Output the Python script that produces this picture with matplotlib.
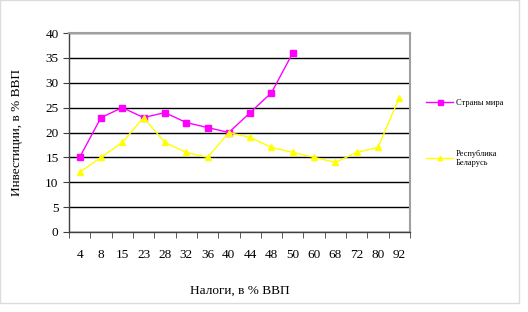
import matplotlib
matplotlib.use("Agg")
import matplotlib.pyplot as plt
from matplotlib.patches import Rectangle

plt.rcParams["font.family"] = ["Liberation Serif", "DejaVu Serif"]

# data
taxes = ["4", "8", "15", "23", "28", "32", "36", "40", "44", "48", "50", "60", "68", "72", "80", "92"]
world = [15, 23, 25, 23, 24, 22, 21, 20, 24, 28, 36]
belarus = [12, 15, 18, 23, 18, 16, 15, 20, 19, 17, 16, 15, 14, 16, 17, 27]
y_ticks = [0, 5, 10, 15, 20, 25, 30, 35, 40]

fig = plt.figure(figsize=(5.28, 3.12), dpi=100)
ax = fig.add_axes([69 / 528, 1 - 232 / 312, 341 / 528, 199 / 312])

# light outer frame around the chart
fig.patches.append(Rectangle((0, 1 - 303 / 312), 519 / 528, 303 / 312,
                             transform=fig.transFigure, fill=False,
                             edgecolor="#dcdcdc", linewidth=1))

x_w = list(range(len(world)))
x_b = list(range(len(belarus)))
l1, = ax.plot(x_w, world, color="#ff00ff", linewidth=1, marker="s",
              markersize=4.5, label="Страны мира", zorder=3)
l2, = ax.plot(x_b, belarus, color="#ffff00", linewidth=1, marker="^",
              markersize=4, label="Республика\nБеларусь", zorder=3)

ax.set_xlim(-0.5, len(taxes) - 0.5)
ax.set_ylim(0, 40)
ax.set_yticks(y_ticks)
ax.set_xticks(x_b)
ax.set_xticklabels(taxes)
ax.set_xticks([i - 0.5 for i in range(len(taxes) + 1)], minor=True)
ax.tick_params(axis="x", which="major", length=0, pad=12, labelsize=9.5)
ax.tick_params(axis="x", which="minor", length=4, direction="out", color="#404040")
ax.tick_params(axis="y", length=4, direction="out", color="#404040", labelsize=9.5)

ax.grid(axis="y", color="black", linewidth=1)
ax.set_axisbelow(True)
for side in ["top", "right"]:
    ax.spines[side].set_color("#a0a0a0")
    ax.spines[side].set_linewidth(1.5)
for side in ["left", "bottom"]:
    ax.spines[side].set_color("#404040")
    ax.spines[side].set_linewidth(1)

ax.set_xlabel("Налоги, в % ВВП", fontsize=9.5, labelpad=17)
ax.set_ylabel("Инвестиции, в % ВВП", fontsize=9.5, labelpad=16)

legend = fig.legend(handles=[l1, l2], loc="upper left",
                    bbox_to_anchor=(422 / 528, 1 - 95 / 312),
                    frameon=False, fontsize=6, labelspacing=5.1, handlelength=3.2,
                    handletextpad=0.4, borderpad=0, markerscale=0.8)

fig.savefig("out.png", dpi=100)
